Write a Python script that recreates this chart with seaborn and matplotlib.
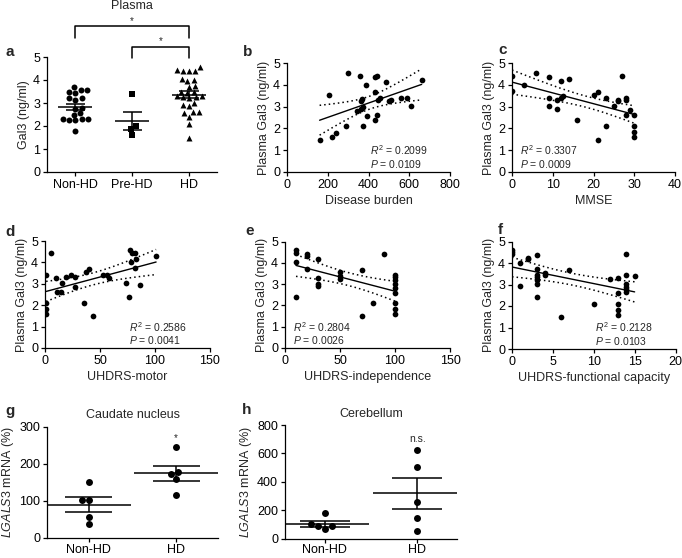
import numpy as np
import pandas as pd
import matplotlib
matplotlib.use("Agg")
import matplotlib.pyplot as plt
import seaborn as sns

# ---------------- data ----------------
plasma_groups = ["Non-HD", "Pre-HD", "HD"]
plasma_nonhd = [3.55, 3.45, 3.5, 3.55, 3.7, 3.15, 3.2, 3.2, 2.8, 2.75, 2.55, 2.5,
                2.3, 2.25, 2.3, 2.25, 2.3, 1.8]
plasma_prehd = [3.38, 2.0, 1.85, 1.6]
plasma_hd = [4.55, 4.45, 4.4, 4.4, 4.4, 4.0, 4.05, 3.95, 3.75, 3.7, 3.5, 3.5, 3.45,
             3.3, 3.3, 3.25, 3.25, 3.2, 3.0, 2.9, 2.85, 2.6, 2.6, 2.55, 2.4, 2.1, 1.5]

burden_x = [160, 207, 220, 242, 289, 297, 346, 357, 361, 365, 369, 374, 372, 387, 395,
            430, 433, 442, 433, 441, 446, 454, 486, 503, 509, 558, 588, 607, 661]
burden_y = [1.48, 3.55, 1.6, 1.8, 2.09, 4.54, 2.78, 4.39, 3.24, 2.9, 3.37, 3.0, 2.09, 3.98, 2.55,
            3.67, 4.36, 4.39, 2.4, 2.6, 3.29, 3.39, 4.13, 3.24, 3.29, 3.39, 3.39, 3.01, 4.24]

mmse_x = [0, 0, 3, 6, 9, 9, 9, 11, 11, 12, 12, 12.4, 14, 16, 20, 21, 21, 23, 23, 25, 26,
          26, 27, 28, 28, 28, 29, 30, 30, 30, 30]
mmse_y = [4.39, 3.7, 3.98, 4.54, 4.36, 3.39, 3.01, 3.32, 2.9, 4.16, 3.39, 3.47, 4.25, 2.4,
          3.55, 3.67, 1.48, 3.39, 2.09, 3.01, 3.29, 3.24, 4.39, 3.39, 3.29, 2.63, 2.83,
          2.6, 2.09, 1.83, 1.6]

motor_x = [1, 1, 1, 1, 5.5, 10, 11, 14.5, 15, 19, 24, 27, 27, 35, 37, 40, 44, 53, 56, 58,
           74, 76, 77, 78, 79, 82, 82, 83, 86, 101]
motor_y = [3.42, 2.1, 1.83, 1.58, 4.43, 3.26, 2.64, 2.6, 3.03, 3.31, 3.42, 3.31, 2.83, 2.1,
           3.54, 3.7, 1.48, 3.42, 3.42, 3.26, 3.03, 2.4, 4.58, 4.04, 4.43, 4.43, 3.73, 4.16,
           2.95, 4.3]

indep_x = [10, 10, 10, 10, 20, 20, 20, 30, 30, 30, 30, 50, 50, 50, 70, 70, 80, 90,
           100, 100, 100, 100, 100, 100, 100, 100, 100]
indep_y = [4.58, 4.45, 4.03, 2.41, 4.42, 4.3, 3.72, 4.17, 3.3, 3.0, 2.9, 3.55, 3.4, 3.26,
           3.68, 1.48, 2.1, 4.42, 3.43, 3.31, 3.2, 3.01, 2.81, 2.6, 2.1, 1.83, 1.58]

func_x = [0, 0, 0, 1, 1, 2, 2, 3, 3, 3, 3, 3, 3, 3, 4, 4, 7, 6, 10, 12, 13, 13, 13, 13,
          13, 14, 14, 14, 14, 14, 14, 15]
func_y = [4.6, 4.5, 4.43, 4.02, 2.92, 4.25, 4.18, 4.38, 3.7, 3.45, 3.33, 3.22, 3.03, 2.41,
          3.55, 3.45, 3.67, 1.5, 2.1, 3.26, 3.3, 2.6, 2.1, 1.83, 1.6, 4.43, 3.43, 3.03,
          2.9, 2.78, 2.64, 3.4]

mrna_groups = ["Non-HD", "HD"]
caudate_nonhd = [150, 103, 102, 57, 38]
caudate_hd = [244, 172, 178, 159, 117]
cereb_nonhd = [182, 85, 67, 85, 104]
cereb_hd = [627, 505, 258, 147, 51]

r2_texts = {
    "b": ("0.2099", "0.0109"), "c": ("0.3307", "0.0009"), "d": ("0.2586", "0.0041"),
    "e": ("0.2804", "0.0026"), "f": ("0.2128", "0.0103"),
}

# ---------------- style ----------------
sns.set_theme(style="ticks")
plt.rcParams["font.family"] = ["Liberation Sans", "DejaVu Sans"]
plt.rcParams["mathtext.fontset"] = "custom"
plt.rcParams["mathtext.rm"] = "Liberation Sans"
plt.rcParams["mathtext.it"] = "Liberation Sans:italic"
plt.rcParams["mathtext.bf"] = "Liberation Sans:bold"
plt.rcParams["axes.edgecolor"] = "black"
plt.rcParams["axes.linewidth"] = 0.9
plt.rcParams["xtick.color"] = "black"
plt.rcParams["ytick.color"] = "black"
plt.rcParams["xtick.major.size"] = 3
plt.rcParams["ytick.major.size"] = 3
plt.rcParams["xtick.major.width"] = 0.9
plt.rcParams["ytick.major.width"] = 0.9

FS = 9
W, H = 682, 558
fig = plt.figure(figsize=(W / 100, H / 100), dpi=100)


def px_axes(l, r, b, t):
    return fig.add_axes([l / W, (H - b) / H, (r - l) / W, (b - t) / H])


def style_ax(ax, pad=2):
    sns.despine(ax=ax)
    ax.tick_params(labelsize=FS, pad=pad)


def mean_sem(ax, pos, vals, half=0.3, cap=0.17):
    v = np.asarray(vals, float)
    m = v.mean()
    s = v.std(ddof=1) / np.sqrt(len(v))
    ax.hlines(m, pos - half, pos + half, color="black", lw=1.1, zorder=4)
    ax.hlines([m - s, m + s], pos - cap, pos + cap, color="black", lw=1.1, zorder=4)
    ax.vlines(pos, m - s, m + s, color="black", lw=1.1, zorder=4)


def scatter_panel(ax, x, y, xlim, xticks, xlabel, key, text_left):
    x = np.asarray(x, float)
    y = np.asarray(y, float)
    sns.regplot(x=x, y=y, ax=ax, ci=None, color="black",
                scatter_kws=dict(s=17, linewidths=0, color="black", alpha=1, zorder=3),
                line_kws=dict(lw=1.0, color="black"))
    # 95% confidence band (dotted)
    n = len(x)
    slope, icpt = np.polyfit(x, y, 1)
    resid = y - (slope * x + icpt)
    s_err = np.sqrt(np.sum(resid ** 2) / (n - 2))
    xs = np.linspace(x.min(), x.max(), 100)
    tval = 2.04
    band = tval * s_err * np.sqrt(1 / n + (xs - x.mean()) ** 2 / np.sum((x - x.mean()) ** 2))
    fit = slope * xs + icpt
    ax.plot(xs, fit + band, ls=(0, (1, 2)), color="black", lw=1.1)
    ax.plot(xs, fit - band, ls=(0, (1, 2)), color="black", lw=1.1)
    ax.set_xlim(*xlim)
    ax.set_xticks(xticks)
    ax.set_ylim(0, 5)
    ax.set_yticks(range(6))
    ax.set_xlabel(xlabel, fontsize=FS, labelpad=3)
    ax.set_ylabel("Plasma Gal3 (ng/ml)", fontsize=FS, labelpad=2)
    r2, p = r2_texts[key]
    tx = 0.05 if text_left else 0.51
    ax.text(tx, 0.20, r"$\it{R}^{2}$ = " + r2, transform=ax.transAxes, fontsize=7.5, va="center")
    ax.text(tx, 0.075, r"$\it{P}$ = " + p, transform=ax.transAxes, fontsize=7.5, va="center")
    style_ax(ax)


# ---------------- panel a ----------------
ax_a = px_axes(47, 217.5, 172, 57)
markers = ["o", "s", "^"]
for grp, vals, mk in zip(plasma_groups, [plasma_nonhd, plasma_prehd, plasma_hd], markers):
    df = pd.DataFrame({"group": grp, "val": vals})
    sns.swarmplot(data=df, x="group", y="val", order=plasma_groups, marker=mk,
                  color="black", size=4.3, ax=ax_a, zorder=3)
for i, vals in enumerate([plasma_nonhd, plasma_prehd, plasma_hd]):
    mean_sem(ax_a, i, vals)
ax_a.set_xlim(-0.5, 2.5)
ax_a.set_ylim(0, 5)
ax_a.set_yticks(range(6))
ax_a.set_xlabel("")
ax_a.set_ylabel("Gal3 (ng/ml)", fontsize=FS, labelpad=2)
style_ax(ax_a)
# significance brackets
kw = dict(color="black", lw=1.1, clip_on=False)
ax_a.plot([0, 0, 2, 2], [5.83, 6.35, 6.35, 5.83], **kw)
ax_a.plot([1, 1, 2, 2], [4.96, 5.43, 5.43, 4.96], **kw)
ax_a.text(1, 6.55, "*", ha="center", va="center", fontsize=7)
ax_a.text(1.5, 5.7, "*", ha="center", va="center", fontsize=7)
ax_a.text(1, 7.2, "Plasma", ha="center", va="center", fontsize=FS)

# ---------------- scatter panels ----------------
ax_b = px_axes(287, 450, 172, 63)
scatter_panel(ax_b, burden_x, burden_y, (0, 800), [0, 200, 400, 600, 800], "Disease burden", "b", False)
ax_c = px_axes(512, 675, 172, 63)
scatter_panel(ax_c, mmse_x, mmse_y, (0, 40), [0, 10, 20, 30, 40], "MMSE", "c", True)
ax_d = px_axes(45, 210, 348, 241)
scatter_panel(ax_d, motor_x, motor_y, (0, 150), [0, 50, 100, 150], "UHDRS-motor", "d", False)
ax_e = px_axes(285, 450, 348, 241.5)
scatter_panel(ax_e, indep_x, indep_y, (0, 150), [0, 50, 100, 150], "UHDRS-independence", "e", True)
ax_f = px_axes(512, 675.5, 349, 241.5)
scatter_panel(ax_f, func_x, func_y, (0, 20), [0, 5, 10, 15, 20], "UHDRS-functional capacity", "f", False)


# ---------------- panels g, h ----------------
def mrna_panel(ax, nonhd, hd, ymax, yticks, title, sig, sig_y, xlim):
    for grp, vals in zip(mrna_groups, [nonhd, hd]):
        df = pd.DataFrame({"group": grp, "val": vals})
        sns.swarmplot(data=df, x="group", y="val", order=mrna_groups, marker="o",
                      color="black", size=5, ax=ax, zorder=3)
    for i, vals in enumerate([nonhd, hd]):
        mean_sem(ax, i, vals, half=0.48, cap=0.27)
    ax.set_xlim(*xlim)
    ax.set_ylim(0, ymax)
    ax.set_yticks(yticks)
    ax.set_xlabel("")
    ax.set_ylabel(r"$\it{LGALS3}$ mRNA (%)", fontsize=FS, labelpad=2)
    ax.set_title(title, fontsize=FS, pad=6)
    ax.text(1, sig_y, sig, ha="center", va="center", fontsize=7.5 if sig != "*" else 7)
    style_ax(ax)
    ax.tick_params(axis="x", pad=1)


ax_g = px_axes(47, 218, 538, 426.7)
mrna_panel(ax_g, caudate_nonhd, caudate_hd, 300, [0, 100, 200, 300], "Caudate nucleus", "*", 270, (-0.48, 1.48))
ax_h = px_axes(285, 457, 538.5, 425)
mrna_panel(ax_h, cereb_nonhd, cereb_hd, 800, [0, 200, 400, 600, 800], "Cerebellum", "n.s.", 700, (-0.43, 1.43))

# ---------------- panel letters ----------------
letters = [("a", 5, 52), ("b", 243, 52), ("c", 498, 50), ("d", 5, 232), ("e", 245, 231),
           ("f", 498, 230), ("g", 5, 411), ("h", 242, 410)]
for lt, x, y in letters:
    fig.text(x / W, 1 - y / H, lt, fontsize=11, fontweight="bold", va="center", ha="left")

fig.savefig("out.png", dpi=100)
